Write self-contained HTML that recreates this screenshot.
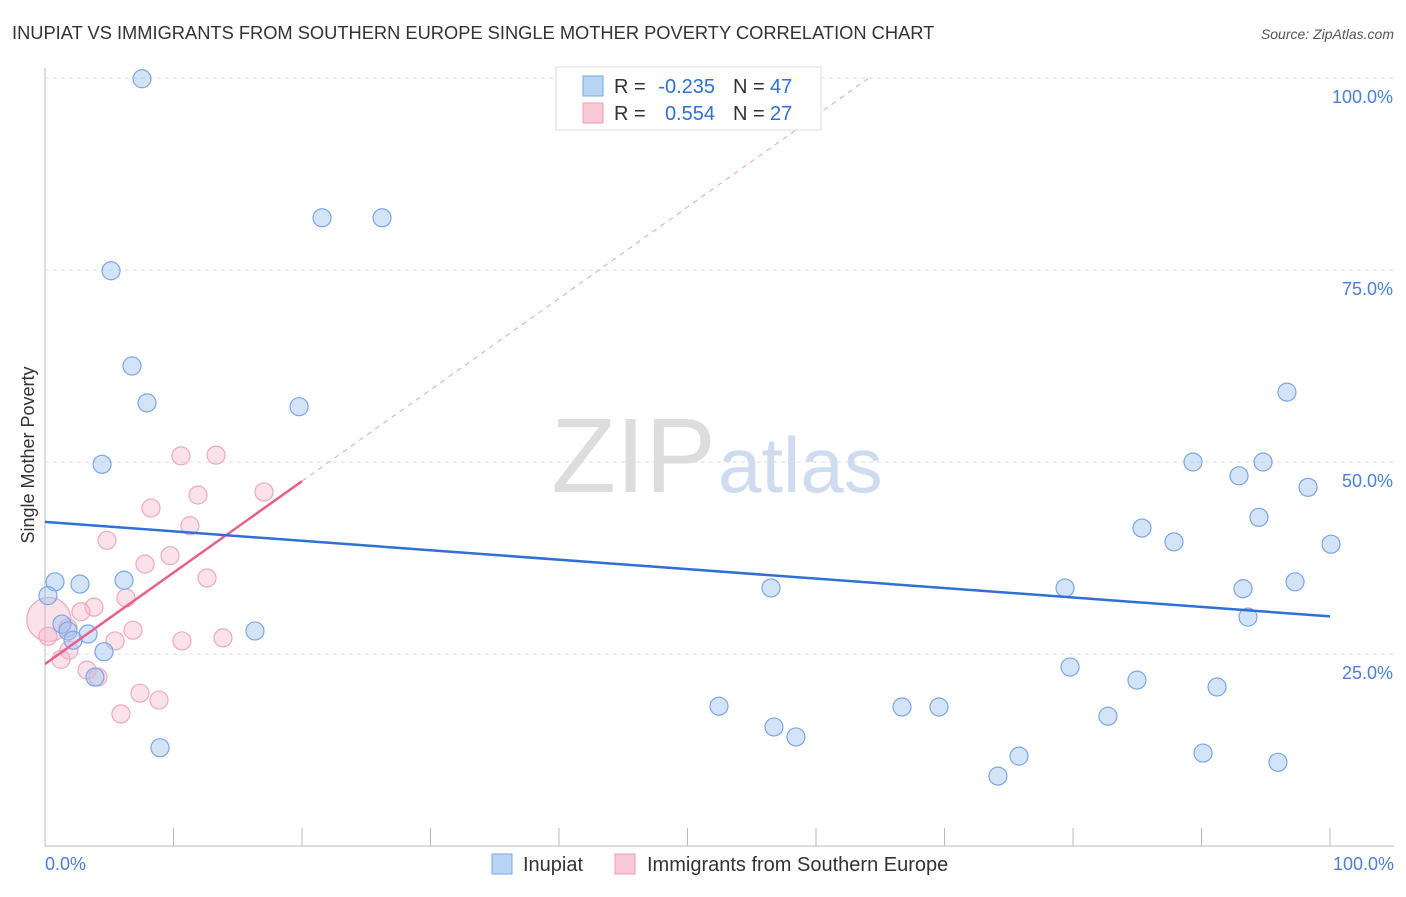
<!DOCTYPE html>
<html><head><meta charset="utf-8"><style>
body{margin:0;background:#fff;font-family:"Liberation Sans",sans-serif;}
svg text{font-family:"Liberation Sans",sans-serif;}
</style></head><body>
<svg width="1406" height="892" id="c">
<text x="12" y="39" font-size="18.3" fill="#333">INUPIAT VS IMMIGRANTS FROM SOUTHERN EUROPE SINGLE MOTHER POVERTY CORRELATION CHART</text>
<text x="1394" y="39" font-size="14" fill="#555" font-style="italic" text-anchor="end">Source: ZipAtlas.com</text>
<text x="34" y="455" font-size="18" fill="#333" transform="rotate(-90 34 455)" text-anchor="middle">Single Mother Poverty</text>
<text x="716" y="492" font-size="106" fill="#ddd" text-anchor="end" font-family="Liberation Serif">ZIP</text>
<text x="718" y="492" font-size="78" fill="#cfdcf0">atlas</text>
<g id="grid"></g><g id="pts"></g><g id="lines"></g>
<g>
<rect x="556" y="67" width="265" height="63" fill="#fff" stroke="#ddd"/>
<rect x="583" y="76" width="20" height="20" fill="#b9d3f5" stroke="#7aa6e6"/>
<rect x="583" y="103" width="20" height="20" fill="#f9c9d7" stroke="#ee9db5"/>
<text x="614" y="93" font-size="20" fill="#333">R =</text>
<text x="715" y="93" font-size="20" fill="#2f6fd6" text-anchor="end">-0.235</text>
<text x="733" y="93" font-size="20" fill="#333">N =</text>
<text x="770" y="93" font-size="20" fill="#2f6fd6">47</text>
<text x="614" y="120" font-size="20" fill="#333">R =</text>
<text x="715" y="120" font-size="20" fill="#2f6fd6" text-anchor="end">0.554</text>
<text x="733" y="120" font-size="20" fill="#333">N =</text>
<text x="770" y="120" font-size="20" fill="#2f6fd6">27</text>
</g>
<g>
<rect x="492" y="854" width="20" height="20" fill="#b9d3f5" stroke="#7aa6e6"/>
<text x="523" y="871" font-size="20" fill="#333">Inupiat</text>
<rect x="615" y="854" width="20" height="20" fill="#f9c9d7" stroke="#ee9db5"/>
<text x="647" y="871" font-size="20" fill="#333">Immigrants from Southern Europe</text>
</g>
<text x="45" y="870" font-size="18" fill="#4a7fd6">0.0%</text>
<text x="1394" y="870" font-size="18" fill="#4a7fd6" text-anchor="end">100.0%</text>
</svg>
<script>
const blueX=[7.55,21.56,26.23,5.14,6.77,7.94,19.77,4.44,0.78,2.72,6.15,0.23,1.32,1.79,3.35,2.18,4.59,3.89,16.34,8.95,56.5,52.45,56.73,58.44,66.69,69.57,74.16,75.8,79.38,79.77,82.72,84.98,85.37,87.86,89.34,90.12,91.21,92.92,93.23,93.62,94.47,94.79,95.95,96.65,97.28,98.29,100.08];
const blueY=[99.9,81.8,81.8,74.9,62.5,57.7,57.2,49.7,34.4,34.1,34.6,32.6,28.9,28.0,27.6,26.8,25.3,22.0,28.0,12.8,33.6,18.2,15.5,14.2,18.1,18.1,9.1,11.7,33.6,23.3,16.9,21.6,41.4,39.6,50.0,12.1,20.7,48.2,33.5,29.8,42.8,50.0,10.9,59.1,34.4,46.7,39.3];
const pinkX=[10.58,13.31,11.91,8.25,17.04,11.28,4.82,9.73,7.78,12.61,3.81,6.3,2.8,0.3,0.23,1.87,5.45,6.85,10.66,13.85,1.25,3.27,4.12,7.39,8.87,5.91,1.79];
const pinkY=[50.8,50.9,45.7,44.0,46.1,41.7,39.8,37.8,36.7,34.9,31.1,32.3,30.5,29.5,27.3,25.5,26.7,28.1,26.7,27.1,24.3,22.9,22.0,19.9,19.0,17.2,28.4];
const pinkR=[9,9,9,9,9,9,9,9,9,9,9,9,9,22,9,9,9,9,9,9,9,9,9,9,9,9,9];
const yTicks=[25,50,75,100];
const blueTrend=[42.2,29.9];
const pinkTrend=[23.7,47.5,20];
const NS="http://www.w3.org/2000/svg";
const sx=v=>45+v*12.85, sy=v=>846-v*7.68;
function mk(t,a,p){const e=document.createElementNS(NS,t);for(const k in a)e.setAttribute(k,a[k]);p.appendChild(e);return e;}
const grid=document.getElementById('grid'),pts=document.getElementById('pts'),lines=document.getElementById('lines'),svg=document.getElementById('c');
let ax=mk('line',{x1:45,y1:68,x2:45,y2:846,stroke:'#bbb'},grid);


let bx=mk('line',{x1:45,y1:846,x2:1394,y2:846,stroke:'#bbb'},grid);


for(let i=0;i<=10;i++){let t=mk('line',{x1:sx(i*10),y1:828,x2:sx(i*10),y2:846,stroke:'#bbb'},grid);

}
yTicks.forEach(v=>{let g=mk('line',{x1:45,y1:sy(v),x2:1394,y2:sy(v),stroke:'#ddd','stroke-dasharray':'4,4'},grid);


let t=mk('text',{x:1393,y:sy(v)+25,'font-size':18,fill:'#4a7fd6','text-anchor':'end'},svg);t.textContent=v.toFixed(1)+'%';

});
pinkX.forEach((x,i)=>{let c=mk('circle',{cx:sx(x),cy:sy(pinkY[i]),r:pinkR[i],fill:'rgba(246,180,200,0.4)',stroke:'#f0a8bf','stroke-width':1.2},pts);

});
blueX.forEach((x,i)=>{let c=mk('circle',{cx:sx(x),cy:sy(blueY[i]),r:9,fill:'rgba(160,195,240,0.45)',stroke:'#7aa6e6','stroke-width':1.2},pts);

});
let sl=(pinkTrend[1]-pinkTrend[0])/pinkTrend[2];
let xe=(100-pinkTrend[0])/sl;
let pd=mk('line',{x1:sx(pinkTrend[2]),y1:sy(pinkTrend[1]),x2:sx(xe),y2:sy(100),stroke:'#f0a0b8','stroke-dasharray':'5,5'},lines);


let pl=mk('line',{x1:sx(0),y1:sy(pinkTrend[0]),x2:sx(pinkTrend[2]),y2:sy(pinkTrend[1]),stroke:'#e8608a','stroke-width':2.5},lines);


let bl=mk('line',{x1:sx(0),y1:sy(blueTrend[0]),x2:sx(100),y2:sy(blueTrend[1]),stroke:'#2f6fd6','stroke-width':2.5},lines);


</script>
</body></html>
